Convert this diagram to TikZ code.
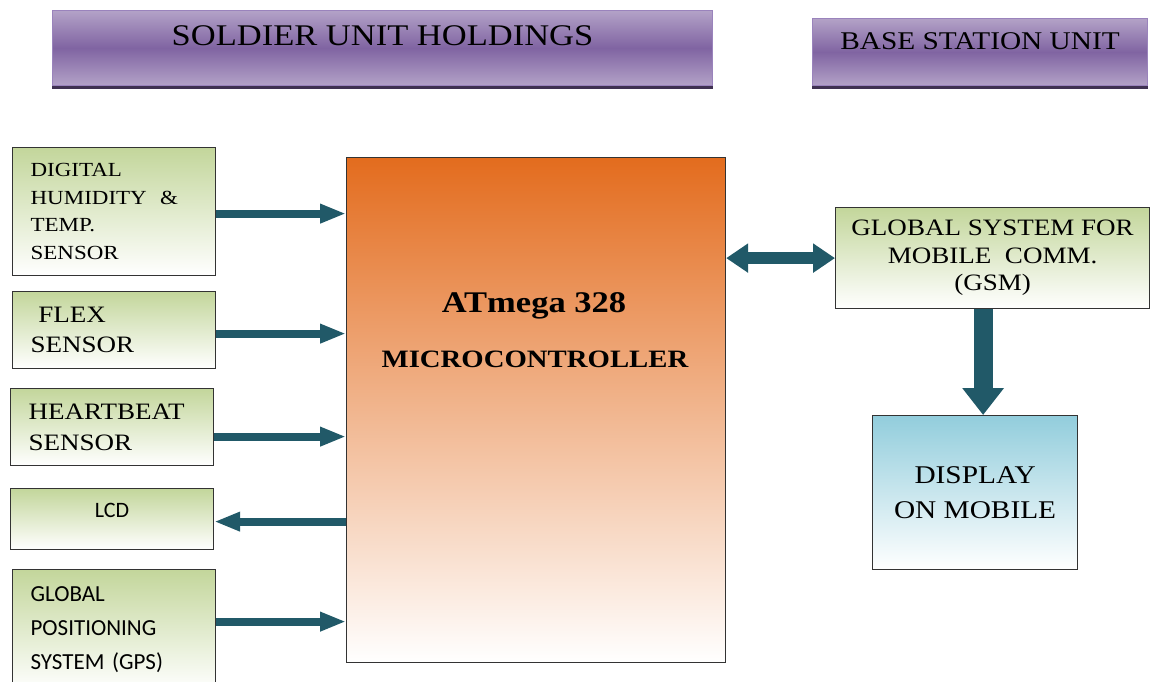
\documentclass[tikz,border=0pt]{standalone}
\usepackage{fontspec}
\setmainfont{Liberation Serif}[FakeStretch=1.15]
\newfontfamily\lcdfont{Carlito}
\usetikzlibrary{arrows.meta}
\definecolor{hdrlight}{HTML}{B3A2C7}
\definecolor{hdrdark}{HTML}{8064A2}
\definecolor{hdrline}{HTML}{9A83BC}
\definecolor{hdrshade}{HTML}{3F3151}
\definecolor{sensorgreen}{HTML}{C3D69B}
\definecolor{mcuorange}{HTML}{E36C1E}
\definecolor{mcupink}{HTML}{F3CFC2}
\definecolor{dispblue}{HTML}{92CDDC}
\definecolor{arrowteal}{HTML}{215968}
\definecolor{boxline}{HTML}{333333}
\tikzset{
  header/.style={draw=hdrline, line width=1pt, top color=hdrlight,
    bottom color=hdrlight, middle color=hdrdark, anchor=north west, inner sep=0pt},
  unitbox/.style={draw=boxline, line width=1.2pt, anchor=north west, inner sep=0pt},
  sensor/.style={unitbox, top color=sensorgreen, bottom color=white,
    align=left, inner xsep=18pt, text width=167pt, minimum height=#1},
  flow/.style={draw=arrowteal, line width=8pt, -{Triangle[width=18pt,length=26pt]}},
  duplex/.style={draw=arrowteal, line width=12pt,
    {Triangle[width=28pt,length=22pt]}-{Triangle[width=28pt,length=22pt]}},
  bigflow/.style={draw=arrowteal, line width=19pt, -{Triangle[width=40pt,length=27pt]}}
}
\begin{document}
\begin{tikzpicture}[x=1pt, y=-1pt]
  \useasboundingbox (0,0) rectangle (1150,681);
  \node[header, minimum width=660pt, minimum height=75pt,
    font=\fontsize{30}{30}\selectfont, text height=20pt, text depth=25pt]
    (soldier) at (52,10) {SOLDIER UNIT HOLDINGS};
  \node[header, minimum width=335pt, minimum height=67pt,
    font=\fontsize{25.5}{30}\selectfont, text height=17pt, text depth=23pt]
    (base) at (812,18) {BASE STATION UNIT};
  \draw[hdrshade, line width=3pt] ([yshift=-1.5]soldier.south west) -- ([yshift=-1.5]soldier.south east);
  \draw[hdrshade, line width=3pt] ([yshift=-1.5]base.south west) -- ([yshift=-1.5]base.south east);

  \node[sensor=128pt, font=\fontsize{20}{27.7}\selectfont] (dht) at (12,147)
    {DIGITAL\\HUMIDITY\ \ \&\\TEMP.\\SENSOR};
  \node[sensor=77pt, font=\fontsize{23.5}{30}\selectfont] (flex) at (12,291)
    {\ FLEX\\SENSOR};
  \node[sensor=77pt, font=\fontsize{23.5}{31}\selectfont] (hb) at (10,388)
    {HEARTBEAT\\SENSOR};
  \node[sensor=61pt, align=center, font=\lcdfont\fontsize{22}{26}\selectfont,
    text height=14pt, text depth=18pt] (lcd) at (10,488) {LCD};
  \node[sensor=121pt, font=\lcdfont\fontsize{23}{34}\selectfont] (gps) at (12,569)
    {GLOBAL\\POSITIONING\\SYSTEM (GPS)};

  \node[unitbox, top color=mcuorange, middle color=mcupink, bottom color=white,
    minimum width=379pt, minimum height=505pt] (mcu) at (346,157) {};
  \node[anchor=base, font=\fontsize{30}{30}\selectfont\bfseries] (mcuname) at (534,312) {ATmega 328};
  \node[anchor=base, font=\fontsize{25}{30}\selectfont\bfseries] (mcukind) at (535,367) {MICROCONTROLLER};

  \node[unitbox, top color=sensorgreen, bottom color=white, minimum width=314pt,
    minimum height=101pt, align=center, font=\fontsize{23.5}{27.5}\selectfont]
    (gsm) at (835,207) {GLOBAL SYSTEM FOR\\MOBILE\ \ COMM.\\(GSM)};
  \node[unitbox, top color=dispblue, bottom color=white, minimum width=205pt,
    minimum height=154pt, align=center, font=\fontsize{25.5}{35}\selectfont]
    (disp) at (872,415) {DISPLAY\\ON MOBILE};

  \draw[flow] ([yshift=-2]dht.east) -- ([yshift=-2]dht.east -| mcu.west);
  \draw[flow] ([yshift=-3.5]flex.east) -- ([yshift=-3.5]flex.east -| mcu.west);
  \draw[flow] ([yshift=-9.5]hb.east) -- ([yshift=-9.5]hb.east -| mcu.west);
  \draw[flow] ([yshift=-2.5]lcd.east -| mcu.west) -- ([yshift=-2.5]lcd.east);
  \draw[flow] ([yshift=8.5]gps.east) -- ([yshift=8.5]gps.east -| mcu.west);
  \draw[duplex] (gsm.west -| mcu.east) -- (gsm.west);
  \draw[bigflow] ([xshift=8]disp.north |- gsm.south) -- ([xshift=8]disp.north);
\end{tikzpicture}
\end{document}
